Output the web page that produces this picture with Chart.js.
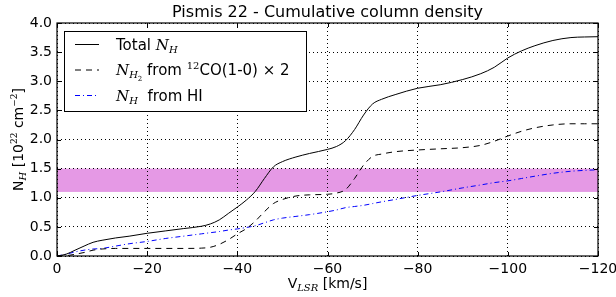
<!DOCTYPE html>
<html>
<head>
<meta charset="utf-8">
<script src="https://cdn.jsdelivr.net/npm/chart.js@4/dist/chart.umd.min.js"></script>
<style>
  html, body { margin: 0; padding: 0; background: #fff; }
  canvas { display: block; }
</style>
</head>
<body>
<canvas id="chart" width="616" height="297"></canvas>
<script>
// velocity grid (km/s) and cumulative column densities (10^22 cm^-2)
const velocities = [0, -2, -4, -6, -8, -10, -13, -16, -20, -24, -28, -32, -34, -36, -38, -40, -42, -44, -46, -48, -50, -53, -56, -60, -62, -64, -66, -68, -70, -72, -75, -80, -85, -90, -94, -97, -100, -103, -106, -110, -114, -117, -120];
const totalNH = [0, 0.03, 0.10, 0.17, 0.235, 0.27, 0.31, 0.34, 0.39, 0.43, 0.47, 0.51, 0.55, 0.62, 0.73, 0.84, 0.96, 1.11, 1.33, 1.53, 1.62, 1.70, 1.76, 1.83, 1.88, 1.98, 2.17, 2.42, 2.61, 2.69, 2.77, 2.88, 2.94, 3.03, 3.13, 3.24, 3.40, 3.52, 3.61, 3.70, 3.75, 3.76, 3.765];
const h2FromCO = [0, 0.005, 0.03, 0.06, 0.10, 0.12, 0.13, 0.13, 0.13, 0.13, 0.13, 0.135, 0.15, 0.20, 0.28, 0.38, 0.47, 0.60, 0.76, 0.90, 0.97, 1.03, 1.05, 1.06, 1.08, 1.14, 1.33, 1.56, 1.71, 1.75, 1.79, 1.82, 1.84, 1.86, 1.90, 1.97, 2.06, 2.14, 2.20, 2.25, 2.27, 2.27, 2.27];
const hiNH = [0, 0.03, 0.07, 0.10, 0.12, 0.13, 0.17, 0.21, 0.25, 0.30, 0.34, 0.38, 0.40, 0.42, 0.445, 0.465, 0.49, 0.52, 0.57, 0.62, 0.65, 0.68, 0.71, 0.76, 0.79, 0.83, 0.85, 0.87, 0.90, 0.93, 0.97, 1.04, 1.10, 1.17, 1.22, 1.26, 1.29, 1.33, 1.37, 1.42, 1.455, 1.47, 1.48];
const band = [1.1, 1.5];
const xTicks = [0, -20, -40, -60, -80, -100, -120];
const yTicks = [0, 0.5, 1.0, 1.5, 2.0, 2.5, 3.0, 3.5, 4.0];

const SANS = '"DejaVu Sans", sans-serif';
const SERIF = '"DejaVu Serif", serif';

const pts = vals => velocities.map((v, i) => ({ x: v, y: vals[i] }));

// draws a list of text runs (for sub/superscripts) starting at x, baseline y
function drawRuns(ctx, runs, x, y) {
  let cx = x;
  runs.forEach(r => {
    ctx.font = r.font;
    ctx.fillText(r.t, cx, y + (r.dy || 0));
    cx += ctx.measureText(r.t).width;
  });
  return cx - x;
}
function runsWidth(ctx, runs) {
  let w = 0;
  runs.forEach(r => { ctx.font = r.font; w += ctx.measureText(r.t).width; });
  return w;
}

const sans = s => `${s}px ${SANS}`;
const ital = s => `italic ${s}px ${SERIF}`;
const serif = s => `${s}px ${SERIF}`;

const legendRows = [
  { dash: [], color: '#000000', runs: [{ t: 'Total ', font: sans(15) }, { t: 'N', font: ital(15) }, { t: 'H', font: ital(10), dy: 3 }] },
  { dash: [6, 5], color: '#000000', runs: [{ t: 'N', font: ital(15) }, { t: 'H', font: ital(10), dy: 3 }, { t: '2', font: serif(7), dy: 6 }, { t: ' from ', font: sans(15) }, { t: '12', font: serif(10), dy: -6 }, { t: 'CO(1-0) ', font: sans(15) }, { t: '\u00d7', font: serif(15) }, { t: ' 2', font: sans(15) }] },
  { dash: [5, 3, 1, 3], color: '#0000ff', runs: [{ t: 'N', font: ital(15) }, { t: 'H', font: ital(10), dy: 3 }, { t: '  from HI', font: sans(15) }] },
];

const decor = {
  id: 'decor',
  beforeDraw(chart) {
    const { ctx, chartArea: a, scales: { y } } = chart;
    ctx.save();
    ctx.fillStyle = '#e599e5';
    const top = y.getPixelForValue(band[1]), bot = y.getPixelForValue(band[0]);
    ctx.fillRect(a.left, top, a.right - a.left, bot - top);
    ctx.restore();
  },
  afterDraw(chart) {
    const { ctx, chartArea: a, scales: { x, y } } = chart;
    ctx.save();
    ctx.strokeStyle = '#000';
    ctx.lineWidth = 1;
    // inward ticks on all four sides
    ctx.beginPath();
    xTicks.forEach(v => {
      const px = Math.round(x.getPixelForValue(v)) + 0.5;
      ctx.moveTo(px, a.bottom); ctx.lineTo(px, a.bottom - 4);
      ctx.moveTo(px, a.top); ctx.lineTo(px, a.top + 4);
    });
    yTicks.forEach(v => {
      const py = Math.round(y.getPixelForValue(v)) + 0.5;
      ctx.moveTo(a.left, py); ctx.lineTo(a.left + 4, py);
      ctx.moveTo(a.right, py); ctx.lineTo(a.right - 4, py);
    });
    ctx.stroke();
    ctx.lineWidth = 1.2;
    ctx.strokeRect(a.left, a.top, a.right - a.left, a.bottom - a.top);

    // legend
    const lx = 64, ly = 31, lw = 242, lh = 80;
    ctx.fillStyle = '#fff';
    ctx.fillRect(lx, ly, lw, lh);
    ctx.lineWidth = 1;
    ctx.strokeRect(lx + 0.5, ly + 0.5, lw, lh);
    ctx.textBaseline = 'alphabetic';
    legendRows.forEach((row, i) => {
      const cy = 44.5 + i * 25.5;
      ctx.beginPath();
      ctx.strokeStyle = row.color;
      ctx.lineWidth = 1;
      ctx.setLineDash(row.dash);
      ctx.moveTo(75, cy); ctx.lineTo(99, cy);
      ctx.stroke();
      ctx.setLineDash([]);
      ctx.fillStyle = '#000';
      drawRuns(ctx, row.runs, 116, cy + 5);
    });

    // title
    ctx.fillStyle = '#000';
    ctx.font = sans(16);
    ctx.textAlign = 'center';
    ctx.fillText('Pismis 22 - Cumulative column density', (a.left + a.right) / 2, 17);
    ctx.textAlign = 'left';

    // x axis title
    const xr = [{ t: 'V', font: sans(14) }, { t: 'LSR', font: ital(10), dy: 3 }, { t: ' [km/s]', font: sans(14) }];
    const xw = runsWidth(ctx, xr);
    drawRuns(ctx, xr, (a.left + a.right) / 2 - xw / 2, 288);

    // y axis title, rotated
    const yr = [{ t: 'N', font: sans(14) }, { t: 'H', font: ital(10), dy: 3 }, { t: ' [10', font: sans(14) }, { t: '22', font: serif(9), dy: -6 }, { t: ' cm', font: sans(14) }, { t: '\u22122', font: serif(9), dy: -6 }, { t: ']', font: sans(14) }];
    const yw = runsWidth(ctx, yr);
    ctx.translate(23, (a.top + a.bottom) / 2);
    ctx.rotate(-Math.PI / 2);
    drawRuns(ctx, yr, -yw / 2, 0);
    ctx.restore();
  },
};

new Chart(document.getElementById('chart'), {
  type: 'line',
  data: {
    datasets: [
      { label: 'Total N_H', data: pts(totalNH), borderColor: '#000', borderWidth: 1, pointRadius: 0, cubicInterpolationMode: 'monotone' },
      { label: 'N_H2 from 12CO(1-0) x 2', data: pts(h2FromCO), borderColor: '#000', borderWidth: 1, borderDash: [6, 5], pointRadius: 0, cubicInterpolationMode: 'monotone' },
      { label: 'N_H from HI', data: pts(hiNH), borderColor: '#0000ff', borderWidth: 1, borderDash: [5, 3, 1, 3], pointRadius: 0, cubicInterpolationMode: 'monotone' },
    ],
  },
  options: {
    responsive: false,
    animation: false,
    layout: { padding: { top: 23, right: 18, left: 0, bottom: 0 } },
    plugins: { legend: { display: false }, tooltip: { enabled: false } },
    scales: {
      x: {
        type: 'linear', reverse: true, min: -120, max: 0,
        afterFit: s => { s.height = 41; s.paddingLeft = 0; s.paddingRight = 0; },
        afterBuildTicks: s => { s.ticks = xTicks.map(v => ({ value: v })); },
        grid: { color: '#000', lineWidth: 1, drawTicks: false },
        border: { display: false, dash: [1, 3] },
        ticks: { color: '#000', font: { family: SANS, size: 14 }, padding: 5, maxRotation: 0, callback: v => v < 0 ? '\u2212' + Math.abs(v) : String(v) },
      },
      y: {
        min: 0, max: 4,
        afterFit: s => { s.width = 57; s.paddingTop = 0; s.paddingBottom = 0; },
        afterBuildTicks: s => { s.ticks = yTicks.map(v => ({ value: v })); },
        grid: { color: '#000', lineWidth: 1, drawTicks: false },
        border: { display: false, dash: [1, 3] },
        ticks: { color: '#000', font: { family: SANS, size: 14 }, padding: 5, callback: v => v.toFixed(1) },
      },
    },
  },
  plugins: [decor],
});
</script>
</body>
</html>
